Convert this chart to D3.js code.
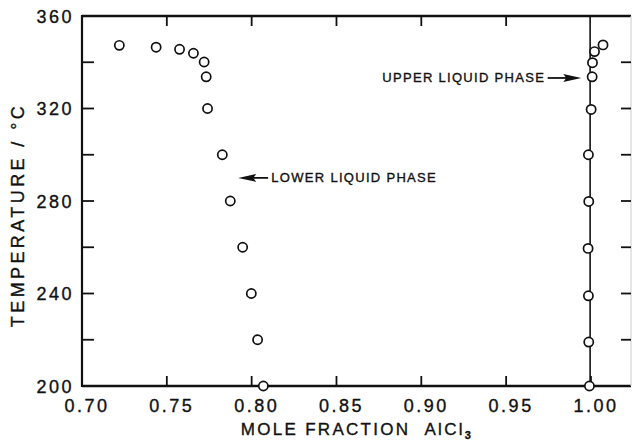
<!DOCTYPE html>
<html>
<head>
<meta charset="utf-8">
<script src="https://cdn.jsdelivr.net/npm/d3@7"></script>
<style>
  body { margin: 0; background: #fff; }
  text { font-family: "Liberation Sans", Arial, sans-serif; fill: #111; stroke: #111; stroke-width: 0.35px; }
</style>
</head>
<body>
<div id="chart"></div>
<script>
// lower liquid phase (mole fraction AlCl3, temperature)
var lowerX = [0.722, 0.7437, 0.7575, 0.7657, 0.772, 0.7732, 0.774, 0.7827, 0.7874, 0.7947, 0.7998, 0.8035, 0.8069];
var lowerT = [347.3, 346.5, 345.6, 343.9, 340.1, 333.7, 320, 300, 280, 260, 240, 220, 200];
// upper liquid phase
var upperX = [0.9991, 0.9987, 0.9985, 0.9983, 0.9987, 0.9985, 1.0001, 1.0007, 1.0009, 1.0021, 1.0071];
var upperT = [200, 219, 239, 259.5, 279.8, 300, 319.6, 333.7, 339.8, 344.6, 347.5];
// ticks
var xTicks = [0.70, 0.75, 0.80, 0.85, 0.90, 0.95, 1.00];
var xTickLabels = ['0.70', '0.75', '0.80', '0.85', '0.90', '0.95', '1.00'];
var yMajor = [200, 240, 280, 320, 360];
var yMinor = [220, 260, 300, 340];

var width = 632, height = 441;
var margin = {left: 82, top: 16, right: 1, bottom: 55};

var svg = d3.select('#chart').append('svg')
    .attr('width', width)
    .attr('height', height);

var x = d3.scaleLinear()
    .domain([0.70, 1.0236])
    .range([margin.left, width - margin.right]);
var y = d3.scaleLinear()
    .domain([200, 360])
    .range([height - margin.bottom, margin.top]);

var x0 = x.range()[0], x1 = x.range()[1];
var y0 = y.range()[0], y1 = y.range()[1];

// frame
svg.append('line').attr('x1', x0).attr('x2', x1).attr('y1', y1).attr('y2', y1)
    .attr('stroke', '#111').attr('stroke-width', 2.5);
svg.append('line').attr('x1', x0).attr('x2', x1).attr('y1', y0).attr('y2', y0)
    .attr('stroke', '#111').attr('stroke-width', 2.5);
svg.append('line').attr('x1', x0).attr('x2', x0).attr('y1', y1 - 1).attr('y2', y0 + 1)
    .attr('stroke', '#111').attr('stroke-width', 2.2);
svg.append('line').attr('x1', x1).attr('x2', x1).attr('y1', y1).attr('y2', y0)
    .attr('stroke', '#ccc').attr('stroke-width', 1);

// x ticks (bottom pointing up, top pointing down)
var xt = xTicks.slice(1);
svg.selectAll('.xtb').data(xt).enter().append('line')
    .attr('x1', d => x(d)).attr('x2', d => x(d))
    .attr('y1', y0).attr('y2', y0 - 10)
    .attr('stroke', '#111').attr('stroke-width', 1.8);
svg.selectAll('.xtt').data(xt.slice(0, -1)).enter().append('line')
    .attr('x1', d => x(d)).attr('x2', d => x(d))
    .attr('y1', y1).attr('y2', y1 + 10)
    .attr('stroke', '#111').attr('stroke-width', 1.8);

// y ticks left and right
var yAll = yMajor.concat(yMinor).filter(d => d > 200 && d < 360);
svg.selectAll('.ytl').data(yAll).enter().append('line')
    .attr('x1', x0).attr('x2', x0 + 12)
    .attr('y1', d => y(d)).attr('y2', d => y(d))
    .attr('stroke', '#111').attr('stroke-width', 1.8);
svg.selectAll('.ytr').data(yAll).enter().append('line')
    .attr('x1', x1 - 10).attr('x2', x1)
    .attr('y1', d => y(d)).attr('y2', d => y(d))
    .attr('stroke', '#111').attr('stroke-width', 1.8);

// tick labels
svg.selectAll('.xl').data(xTicks).enter().append('text')
    .attr('x', (d, i) => x(d) + 5)
    .attr('y', y0 + 26)
    .attr('text-anchor', 'middle')
    .style('font-size', '18px')
    .style('letter-spacing', '2.5px')
    .text((d, i) => xTickLabels[i]);
svg.selectAll('.yl').data(yMajor).enter().append('text')
    .attr('x', x0 - 8)
    .attr('y', d => y(d) + 6.5)
    .attr('text-anchor', 'end')
    .style('font-size', '18px')
    .style('letter-spacing', '2.5px')
    .text(d => d);

// axis titles
var xt2 = svg.append('text')
    .attr('x', 357)
    .attr('y', 435)
    .attr('text-anchor', 'middle')
    .style('font-size', '17px')
    .style('letter-spacing', '2.3px');
xt2.append('tspan').text('MOLE FRACTION\u00a0\u00a0AlCl');
xt2.append('tspan').attr('dy', 4).style('font-size', '11px').style('font-weight', 'bold').text('3');

svg.append('text')
    .attr('transform', 'translate(24,' + ((y0 + y1) / 2 + 14) + ') rotate(-90)')
    .attr('text-anchor', 'middle')
    .style('font-size', '18px')
    .style('letter-spacing', '3.4px')
    .text('TEMPERATURE / \u00b0C');

// upper phase line
svg.append('line')
    .attr('x1', x(0.9995)).attr('x2', x(0.9995))
    .attr('y1', y(360)).attr('y2', y(200))
    .attr('stroke', '#111').attr('stroke-width', 1.6);

// points
var lowerPts = lowerX.map((v, i) => ({x: v, t: lowerT[i]}));
var upperPts = upperX.map((v, i) => ({x: v, t: upperT[i]}));
svg.selectAll('.pt').data(lowerPts.concat(upperPts)).enter().append('circle')
    .attr('cx', d => x(d.x)).attr('cy', d => y(d.t))
    .attr('r', 4.6)
    .attr('fill', '#fff')
    .attr('stroke', '#111')
    .attr('stroke-width', 1.7);

// annotations
function arrow(xTip, xTail, yy, dir) {
    svg.append('line')
        .attr('x1', xTip + dir * 8).attr('x2', xTail)
        .attr('y1', yy).attr('y2', yy)
        .attr('stroke', '#111').attr('stroke-width', 1.8);
    svg.append('path')
        .attr('d', 'M' + xTip + ',' + yy + 'L' + (xTip + dir * 18) + ',' + (yy - 4) +
            'L' + (xTip + dir * 15) + ',' + yy + 'L' + (xTip + dir * 18) + ',' + (yy + 4) + 'Z')
        .attr('fill', '#111');
}
arrow(x(0.7921), x(0.8097), y(290), 1);
svg.append('text')
    .attr('x', x(0.8116)).attr('y', y(290) + 4.5)
    .style('font-size', '13px')
    .style('letter-spacing', '1.3px')
    .text('LOWER LIQUID PHASE');

arrow(x(0.9943), x(0.9745), y(333.2), -1);
svg.append('text')
    .attr('x', x(0.973)).attr('y', y(333.2) + 4.5)
    .attr('text-anchor', 'end')
    .style('font-size', '13px')
    .style('letter-spacing', '1.3px')
    .text('UPPER LIQUID PHASE');
</script>
</body>
</html>
